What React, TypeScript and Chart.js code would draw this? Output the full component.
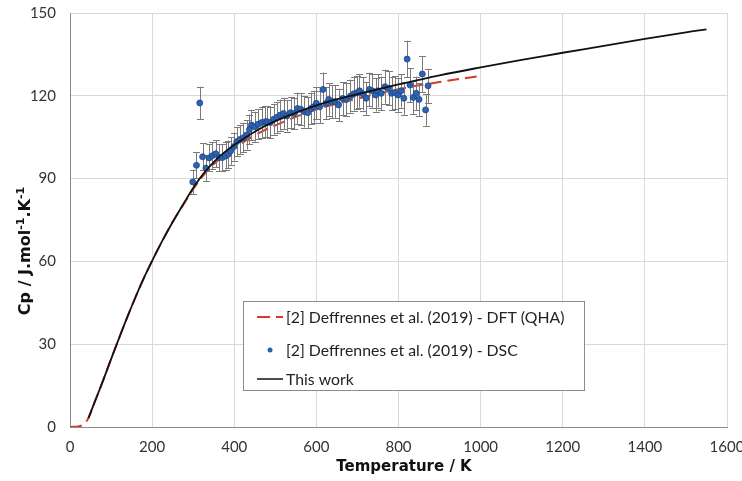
import React, { useEffect, useRef } from "react";
import { Chart, registerables } from "chart.js";

Chart.register(...registerables);

// ---- Data ----
const MODEL_T = [45, 60, 80, 100, 120, 140, 160, 180, 200, 225, 250, 275, 300, 325, 350, 375, 400, 450, 500, 600, 700, 800, 900, 1000, 1100, 1200, 1300, 1400, 1500, 1550];
const MODEL_CP = [3.2, 9, 16.6, 24.6, 32.4, 40, 47.2, 54, 60.2, 67.5, 74.3, 80.5, 86.6, 91.8, 96, 99.4, 102.2, 107, 110.8, 116.5, 120.6, 124.1, 127.4, 130.3, 133, 135.6, 138.1, 140.6, 143, 144.1];

const DFT_T = [0, 20, 30, 40, 50, 60, 80, 100, 120, 140, 160, 180, 200, 225, 250, 275, 300, 325, 350, 375, 400, 450, 500, 600, 700, 800, 900, 1000];
const DFT_CP = [0, 0.2, 0.7, 2, 5, 9, 16.6, 24.6, 32.4, 40, 47.2, 54, 60.2, 67.5, 74.3, 80.3, 86.2, 91.2, 95.2, 98.4, 101, 105.7, 109.3, 115, 119, 122.4, 125, 127.2];

const DSC_T = [299, 308, 316, 323, 331, 339, 347, 355, 363, 371, 379, 385, 391, 399, 406, 414, 422, 430, 437, 442, 450, 458, 467, 476, 480, 488, 496, 504, 512, 520, 528, 537, 545, 554, 562, 571, 579, 587, 593, 600, 608, 616, 624, 630, 638, 646, 654, 664, 673, 683, 691, 699, 705, 713, 721, 729, 736, 744, 750, 758, 767, 776, 783, 791, 799, 806, 813, 821, 828, 836, 843, 850, 858, 866, 872];
const DSC_CP = [88.8, 94.8, 117.4, 97.9, 93.8, 97.5, 98.3, 99, 97.6, 97.6, 98.2, 98.8, 100, 101.6, 103.4, 104.2, 104.8, 105.8, 107.8, 109.4, 108.8, 109.7, 110.3, 110.6, 110.6, 110.3, 111.5, 112.2, 113, 113.6, 112.7, 113.9, 113.6, 115.4, 115.1, 114.2, 113.9, 115.4, 116, 117.3, 116, 122.3, 117.3, 118.7, 117.9, 117.9, 116.7, 119, 118.7, 119.9, 120.7, 121.1, 121.8, 120.7, 119.1, 122.3, 121.8, 120.3, 121.8, 120.9, 123.3, 122.7, 120.9, 121.1, 120.3, 121.8, 119.1, 133.3, 123.9, 119.4, 120.9, 118.7, 127.9, 114.9, 123.6];
const DSC_ERROR_PCT = 5;

const X_TICKS = [0, 200, 400, 600, 800, 1000, 1200, 1400, 1600];
const Y_TICKS = [0, 30, 60, 90, 120, 150];

const LEGEND_LABELS = [
  "[2] Deffrennes et al. (2019) - DFT (QHA)",
  "[2] Deffrennes et al. (2019) - DSC",
  "This work",
];
const X_TITLE = "Temperature / K";

// ---- Styles ----
const FONT = "Lato, 'Open Sans', 'DejaVu Sans', sans-serif";
const TITLE_FONT = "'DejaVu Sans', 'Open Sans', sans-serif";
const RED = "#d7382a";
const BLUE = "#2c62b2";
const BLUE_EDGE = "#1d4586";
const BLACK = "#111111";
const ERR = "#7a7a7a";

const pts = (xs: number[], ys: number[]) => xs.map((x, i) => ({ x, y: ys[i] }));

const errorBarPlugin = {
  id: "errorBars",
  beforeDatasetDraw(chart: any, args: any) {
    if (args.index !== 1) return;
    const { ctx, scales } = chart;
    const xs = scales.x, ys = scales.y;
    ctx.save();
    ctx.strokeStyle = ERR;
    ctx.lineWidth = 1;
    DSC_T.forEach((t, i) => {
      const v = DSC_CP[i];
      const e = (v * DSC_ERROR_PCT) / 100;
      const px = Math.round(xs.getPixelForValue(t)) + 0.5;
      const top = ys.getPixelForValue(v + e);
      const bot = ys.getPixelForValue(v - e);
      ctx.beginPath();
      ctx.moveTo(px, top);
      ctx.lineTo(px, bot);
      ctx.moveTo(px - 3.5, Math.round(top) + 0.5);
      ctx.lineTo(px + 3.5, Math.round(top) + 0.5);
      ctx.moveTo(px - 3.5, Math.round(bot) + 0.5);
      ctx.lineTo(px + 3.5, Math.round(bot) + 0.5);
      ctx.stroke();
    });
    ctx.restore();
  },
};

const decorPlugin = {
  id: "decor",
  afterDraw(chart: any) {
    const { ctx, chartArea } = chart;
    ctx.save();
    // Legend box
    const lx = chartArea.left + 173;
    const ly = chartArea.top + 288;
    const lw = 341;
    const lh = 89;
    ctx.fillStyle = "#ffffff";
    ctx.fillRect(lx, ly, lw, lh);
    ctx.strokeStyle = "#8c8c8c";
    ctx.lineWidth = 1;
    ctx.strokeRect(Math.round(lx) + 0.5, Math.round(ly) + 0.5, lw, lh);

    const sx0 = lx + 14;
    const sx1 = lx + 40;
    const rows = [ly + 16, ly + 49, ly + 78];
    // DFT sample
    ctx.strokeStyle = RED;
    ctx.lineWidth = 2;
    ctx.setLineDash([13, 6]);
    ctx.beginPath();
    ctx.moveTo(sx0, rows[0]);
    ctx.lineTo(sx1, rows[0]);
    ctx.stroke();
    ctx.setLineDash([]);
    // DSC sample
    ctx.fillStyle = BLUE;
    ctx.beginPath();
    ctx.arc((sx0 + sx1) / 2, rows[1], 2.5, 0, Math.PI * 2);
    ctx.fill();
    // model sample
    ctx.strokeStyle = BLACK;
    ctx.lineWidth = 1.5;
    ctx.beginPath();
    ctx.moveTo(sx0, rows[2]);
    ctx.lineTo(sx1, rows[2]);
    ctx.stroke();

    ctx.fillStyle = "#222222";
    ctx.font = `15.8px ${FONT}`;
    ctx.textBaseline = "middle";
    ctx.textAlign = "left";
    LEGEND_LABELS.forEach((t, i) => ctx.fillText(t, sx1 + 3, rows[i] + 1));

    // X title
    ctx.font = `bold 15px ${TITLE_FONT}`;
    ctx.textAlign = "center";
    ctx.textBaseline = "middle";
    ctx.fillStyle = "#111111";
    ctx.fillText(X_TITLE, 404, 467);

    // Y title with superscripts (rotated)
    ctx.translate(25, 251);
    ctx.rotate(-Math.PI / 2);
    const segs: [string, boolean][] = [
      ["Cp / J.mol", false],
      ["-1", true],
      [".K", false],
      ["-1", true],
    ];
    const big = `bold 16px ${TITLE_FONT}`;
    const small = `bold 11px ${TITLE_FONT}`;
    let total = 0;
    segs.forEach(([s, sup]) => {
      ctx.font = sup ? small : big;
      total += ctx.measureText(s).width;
    });
    let cx = -total / 2;
    ctx.textAlign = "left";
    ctx.textBaseline = "alphabetic";
    segs.forEach(([s, sup]) => {
      ctx.font = sup ? small : big;
      ctx.fillText(s, cx, sup ? -1 : 5);
      cx += ctx.measureText(s).width;
    });
    ctx.restore();
  },
};

export default function App() {
  const ref = useRef<HTMLCanvasElement | null>(null);
  useEffect(() => {
    if (!ref.current) return;
    const chart = new Chart(ref.current, {
      type: "scatter",
      data: {
        datasets: [
          {
            label: LEGEND_LABELS[2],
            data: pts(MODEL_T, MODEL_CP),
            showLine: true,
            borderColor: BLACK,
            borderWidth: 1.8,
            pointRadius: 0,
            tension: 0.4,
            order: 1,
          } as any,
          {
            label: LEGEND_LABELS[1],
            data: pts(DSC_T, DSC_CP),
            showLine: false,
            backgroundColor: BLUE,
            borderColor: BLUE_EDGE,
            borderWidth: 0.8,
            pointRadius: 3,
            order: 2,
          },
          {
            label: LEGEND_LABELS[0],
            data: pts(DFT_T, DFT_CP),
            showLine: true,
            borderColor: RED,
            borderWidth: 2,
            borderDash: [12, 6],
            pointRadius: 0,
            tension: 0.4,
            order: 3,
          } as any,
        ],
      },
      options: {
        responsive: false,
        animation: false,
        layout: { padding: { top: 13, right: 15, left: 0, bottom: 0 } },
        plugins: { legend: { display: false }, tooltip: { enabled: false } },
        scales: {
          x: {
            type: "linear",
            min: 0,
            max: 1600,
            afterFit: (s: any) => {
              s.height = 54;
              s.paddingLeft = 0;
              s.paddingRight = 0;
              s.paddingTop = 0;
              s.paddingBottom = 0;
            },
            afterBuildTicks: (s: any) => { s.ticks = X_TICKS.map((v) => ({ value: v })); },
            ticks: { color: "#333333", font: { family: FONT, size: 15 }, padding: 11, maxRotation: 0, callback: (v: any) => String(v) },
            grid: { color: "#d9d9d9", drawTicks: false },
            border: { color: "#8c8c8c", width: 1 },
          },
          y: {
            type: "linear",
            min: 0,
            max: 150,
            afterFit: (s: any) => {
              s.width = 70;
              s.paddingLeft = 0;
              s.paddingRight = 0;
              s.paddingTop = 0;
              s.paddingBottom = 0;
            },
            afterBuildTicks: (s: any) => { s.ticks = Y_TICKS.map((v) => ({ value: v })); },
            ticks: { color: "#333333", font: { family: FONT, size: 15 }, padding: 14, callback: (v: any) => String(v) },
            grid: { color: "#d9d9d9", drawTicks: false },
            border: { color: "#8c8c8c", width: 1 },
          },
        },
      },
      plugins: [errorBarPlugin, decorPlugin],
    });
    return () => chart.destroy();
  }, []);
  return (
    <div style={{ position: "fixed", left: 0, top: 0, width: 742, height: 481, background: "#fff" }}>
      <canvas ref={ref} width={742} height={481} />
    </div>
  );
}
